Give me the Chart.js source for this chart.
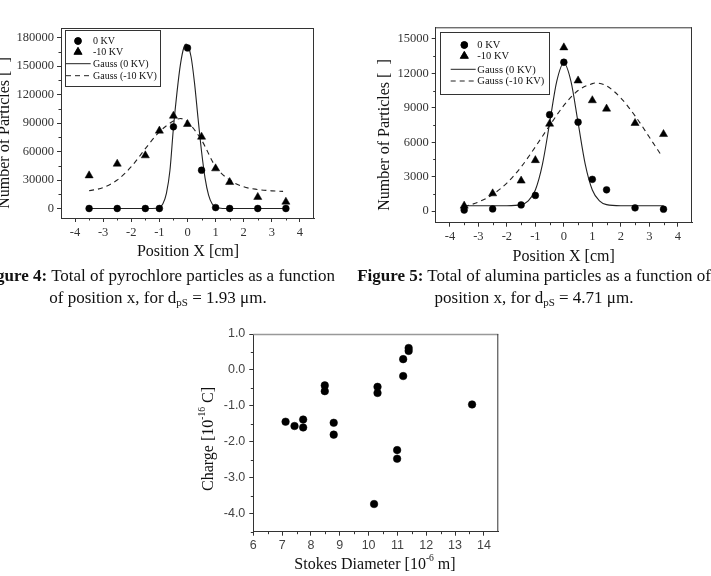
<!DOCTYPE html>
<html>
<head>
<meta charset="utf-8">
<script src="https://cdn.jsdelivr.net/npm/chart.js@4.4.0/dist/chart.umd.min.js"></script>
<style>
body { margin: 0; background: #fff; }
#page { position: relative; width: 711px; height: 576px; overflow: hidden; background: #fff; }
canvas { position: absolute; }
.cap { position: absolute; width: 440px; text-align: center; font-family: 'Liberation Serif', serif; font-size: 17px; line-height: 22px; color: #111; white-space: nowrap; }
.cap sub { font-size: 11px; vertical-align: -3px; line-height: 0; }
</style>
</head>
<body>
<div id="page">
  <canvas id="fig4" width="340" height="262" style="left:0;top:0"></canvas>
  <canvas id="fig5" width="371" height="268" style="left:340px;top:0"></canvas>
  <canvas id="fig6" width="350" height="256" style="left:180px;top:320px"></canvas>
  <div class="cap" style="left:-62px;top:265px"><b>Figure 4:</b> Total of pyrochlore particles as a function<br>of position x, for d<sub>pS</sub> = 1.93 μm.</div>
  <div class="cap" style="left:314px;top:265px"><b>Figure 5:</b> Total of alumina particles as a function of<br>position x, for d<sub>pS</sub> = 4.71 μm.</div>
</div>
<script>
// figure 4 - pyrochlore
var fig4Pos = [-3.5, -2.5, -1.5, -1, -0.5, 0, 0.5, 1, 1.5, 2.5, 3.5];
var fig4Count0kV = [0, 0, 0, 0, 86000, 169000, 40300, 1000, 0, 0, 0];
var fig4CountNeg10kV = [34700, 47000, 55800, 81800, 97500, 88800, 75400, 42100, 27700, 12000, 7000];
var fig4Gauss0X = [-3.5, -1.25, -1, -0.875, -0.75, -0.625, -0.5, -0.375, -0.25, -0.125, -0.05, 0.125, 0.25, 0.375, 0.5, 0.625, 0.75, 0.875, 1, 1.25, 3.5];
var fig4Gauss0Y = [0, 0, 1000, 5000, 16000, 40000, 85000, 122000, 152000, 170000, 173000, 160000, 132000, 95000, 60000, 32000, 14000, 5000, 1500, 0, 0];
var fig4GaussNegX = [-3.5, -3, -2.5, -2, -1.5, -1, -0.5, -0.25, 0, 0.5, 1, 1.5, 2, 2.5, 3, 3.4];
var fig4GaussNegY = [18600, 22000, 30000, 44000, 63000, 80700, 92000, 94700, 91000, 72000, 44000, 30000, 22800, 20000, 18600, 18000];
var fig4YTicks = [0, 30000, 60000, 90000, 120000, 150000, 180000];

// figure 5 - alumina
var fig5Pos = [-3.5, -2.5, -1.5, -1, -0.5, 0, 0.5, 1, 1.5, 2.5, 3.5];
var fig5Count0kV = [100, 200, 550, 1370, 8390, 12960, 7750, 2770, 1860, 290, 175];
var fig5CountNeg10kV = [470, 1540, 2650, 4430, 7600, 14240, 11360, 9640, 8910, 7660, 6700];
var fig5Gauss0X = [-3.5, -2, -1.5, -1.25, -1, -0.75, -0.5, -0.25, 0, 0.25, 0.5, 0.75, 1, 1.25, 1.5, 2, 3.5];
var fig5Gauss0Y = [470, 470, 570, 900, 1850, 4100, 7660, 11300, 12900, 11300, 7700, 4100, 1850, 900, 570, 470, 470];
var fig5GaussNegX = [-3.5, -3, -2.5, -2, -1.5, -1, -0.5, 0, 0.5, 1, 1.1, 1.5, 2, 2.5, 3, 3.45];
var fig5GaussNegY = [380, 800, 1450, 2450, 3850, 5600, 7450, 9200, 10500, 11100, 11150, 10900, 9850, 8300, 6450, 4750];
var fig5YTicks = [0, 3000, 6000, 9000, 12000, 15000];

var posTicks = [-4, -3, -2, -1, 0, 1, 2, 3, 4];

// bottom chart - charge vs stokes diameter
var stokesDiameter = [7.12, 7.43, 7.73, 7.73, 8.48, 8.48, 8.79, 8.79, 10.19, 10.31, 10.31, 10.99, 10.99, 11.2, 11.2, 11.39, 11.39, 13.59];
var charge = [-1.44, -1.56, -1.38, -1.60, -0.43, -0.59, -1.47, -1.80, -3.73, -0.47, -0.64, -2.23, -2.47, 0.30, -0.17, 0.61, 0.53, -0.96];
var diameterTicks = [6, 7, 8, 9, 10, 11, 12, 13, 14];
var chargeTicks = [-4, -3, -2, -1, 0, 1];

function pts(xs, ys) {
    return xs.map(function (x, i) { return { x: x, y: ys[i] }; });
}
function midpoints(arr) {
    var out = [];
    for (var i = 0; i < arr.length - 1; i++) out.push((arr[i] + arr[i + 1]) / 2);
    return out;
}
function fixTicks(values) {
    return function (scale) { scale.ticks = values.map(function (v) { return { value: v }; }); };
}
function fixSize(size, horizontal) {
    return function (scale) {
        if (horizontal) scale.height = size; else scale.width = size;
        scale.paddingLeft = scale.paddingRight = scale.paddingTop = scale.paddingBottom = 0;
    };
}

// frame, minor ticks, axis titles and the boxed legend
var decor = {
    id: 'decor',
    afterDraw: function (chart, args, o) {
        var ctx = chart.ctx, a = chart.chartArea;
        var xs = chart.scales.x, ys = chart.scales.y;
        ctx.save();
        ctx.lineWidth = o.topWidth || 1;
        ctx.strokeStyle = o.topColor || o.color;
        ctx.beginPath(); ctx.moveTo(a.left, a.top + 0.5); ctx.lineTo(a.right, a.top + 0.5); ctx.stroke();
        ctx.lineWidth = 1;
        ctx.strokeStyle = o.color;
        ctx.beginPath(); ctx.moveTo(a.right - 0.5, a.top); ctx.lineTo(a.right - 0.5, a.bottom); ctx.stroke();
        ctx.beginPath();
        o.minorX.forEach(function (v) {
            var px = Math.round(xs.getPixelForValue(v)) + 0.5;
            ctx.moveTo(px, a.bottom); ctx.lineTo(px, a.bottom + 2.5);
        });
        o.minorY.forEach(function (v) {
            var py = Math.round(ys.getPixelForValue(v)) + 0.5;
            ctx.moveTo(a.left, py); ctx.lineTo(a.left - 2.5, py);
        });
        ctx.stroke();

        ctx.fillStyle = '#111';
        o.titles.forEach(function (t) {
            var total = 0;
            t.parts.forEach(function (p) {
                ctx.font = (p.sup ? t.size * 0.6 : t.size) + 'px "Liberation Serif"';
                p.w = ctx.measureText(p.s).width;
                total += p.w;
            });
            ctx.save();
            ctx.translate(t.x, t.y);
            if (t.rotate) ctx.rotate(-Math.PI / 2);
            ctx.textBaseline = 'middle';
            ctx.textAlign = 'left';
            var cx = -total / 2;
            t.parts.forEach(function (p) {
                ctx.font = (p.sup ? t.size * 0.6 : t.size) + 'px "Liberation Serif"';
                ctx.fillText(p.s, cx, p.sup ? -t.size * 0.42 : 0);
                cx += p.w;
            });
            ctx.restore();
        });

        var lg = o.legend;
        if (lg) {
            ctx.fillStyle = '#fff';
            ctx.fillRect(lg.x, lg.y, lg.w, lg.h);
            ctx.strokeStyle = '#333';
            ctx.lineWidth = 1;
            ctx.strokeRect(lg.x + 0.5, lg.y + 0.5, lg.w, lg.h);
            ctx.font = lg.size + 'px "Liberation Serif"';
            ctx.textBaseline = 'middle';
            ctx.textAlign = 'left';
            chart.data.datasets.forEach(function (ds, i) {
                var y = lg.rows[i];
                ctx.fillStyle = '#000';
                ctx.strokeStyle = '#222';
                if (ds.showLine) {
                    ctx.setLineDash(ds.borderDash || []);
                    ctx.beginPath(); ctx.moveTo(lg.lineX[0], y); ctx.lineTo(lg.lineX[1], y); ctx.stroke();
                    ctx.setLineDash([]);
                } else {
                    Chart.helpers.drawPoint(ctx, { pointStyle: ds.pointStyle, radius: ds.pointRadius, borderWidth: 0.5 }, lg.symX, y);
                    ctx.fill();
                }
                ctx.fillStyle = '#111';
                ctx.fillText(ds.label, lg.textX, y + 0.5);
            });
        }
        ctx.restore();
    }
};

function serifTicks(padding, fmt) {
    return { font: { family: 'Liberation Serif', size: 12.5 }, color: '#333', padding: padding, maxRotation: 0, autoSkip: false, callback: fmt };
}
function axisGrid(color) {
    return { drawOnChartArea: false, drawTicks: true, tickLength: 4, color: color };
}

function particleChart(id, pos, c0, cNeg, g0x, g0y, gNx, gNy, yMin, yMax, yTicks, padding, deco) {
    return new Chart(id, {
        type: 'scatter',
        data: {
            datasets: [
                { label: '0 KV', data: pts(pos, c0), pointStyle: 'circle', pointRadius: 3.4, borderWidth: 0.5, backgroundColor: '#000', borderColor: '#000' },
                { label: '-10 KV', data: pts(pos, cNeg), pointStyle: 'triangle', pointRadius: 4.7, borderWidth: 0.5, backgroundColor: '#000', borderColor: '#000' },
                { label: 'Gauss (0 KV)', data: pts(g0x, g0y), showLine: true, pointRadius: 0, borderWidth: 1.1, borderColor: '#222', cubicInterpolationMode: 'monotone' },
                { label: 'Gauss (-10 KV)', data: pts(gNx, gNy), showLine: true, pointRadius: 0, borderWidth: 1.1, borderColor: '#222', borderDash: [5, 4], cubicInterpolationMode: 'monotone' }
            ]
        },
        options: {
            responsive: false,
            animation: false,
            layout: { padding: padding },
            plugins: { legend: { display: false }, tooltip: { enabled: false }, decor: deco },
            scales: {
                x: {
                    type: 'linear', position: 'bottom', min: -4.5, max: 4.5,
                    afterBuildTicks: fixTicks(posTicks), afterFit: fixSize(30, true),
                    border: { display: true, color: '#333', width: 1 },
                    grid: axisGrid('#333'),
                    ticks: serifTicks(3, function (v) { return String(v); })
                },
                y: {
                    type: 'linear', position: 'left', min: yMin, max: yMax,
                    afterBuildTicks: fixTicks(yTicks), afterFit: fixSize(45, false),
                    border: { display: true, color: '#333', width: 1 },
                    grid: axisGrid('#333'),
                    ticks: serifTicks(3, function (v) { return String(v); })
                }
            }
        },
        plugins: [decor]
    });
}

particleChart('fig4', fig4Pos, fig4Count0kV, fig4CountNeg10kV, fig4Gauss0X, fig4Gauss0Y, fig4GaussNegX, fig4GaussNegY,
    -10000, 190000, fig4YTicks, { left: 16, top: 28, right: 26, bottom: 14 }, {
        color: '#333',
        minorX: midpoints(posTicks),
        minorY: midpoints(fig4YTicks),
        titles: [
            { parts: [{ s: 'Number of Particles [  ]' }], x: 5, y: 133, size: 16, rotate: true },
            { parts: [{ s: 'Position X [cm]' }], x: 188, y: 252, size: 16 }
        ],
        legend: { x: 65, y: 30, w: 95, h: 56, rows: [41, 52, 63.7, 75.7], symX: 78, lineX: [66, 90.7], textX: 93, size: 10 }
    });

particleChart('fig5', fig5Pos, fig5Count0kV, fig5CountNeg10kV, fig5Gauss0X, fig5Gauss0Y, fig5GaussNegX, fig5GaussNegY,
    -1000, 16000, fig5YTicks, { left: 50.7, top: 27.3, right: 19, bottom: 15.3 }, {
        color: '#333',
        minorX: midpoints(posTicks),
        minorY: midpoints(fig5YTicks),
        titles: [
            { parts: [{ s: 'Number of Particles [  ]' }], x: 45, y: 135, size: 16, rotate: true },
            { parts: [{ s: 'Position X [cm]' }], x: 223.7, y: 257, size: 16 }
        ],
        legend: { x: 100, y: 32, w: 109, h: 62, rows: [45, 56, 69.3, 81], symX: 124.3, lineX: [110.7, 135.7], textX: 137.3, size: 10.5 }
    });

new Chart('fig6', {
    type: 'scatter',
    data: {
        datasets: [
            { label: 'Charge', data: pts(stokesDiameter, charge), pointStyle: 'circle', pointRadius: 3.8, borderWidth: 0.5, backgroundColor: '#000', borderColor: '#000' }
        ]
    },
    options: {
        responsive: false,
        animation: false,
        layout: { padding: { left: 28.3, top: 14, right: 31.7, bottom: 14.3 } },
        plugins: {
            legend: { display: false }, tooltip: { enabled: false },
            decor: {
                color: '#333', topColor: '#999', topWidth: 1.6,
                minorX: midpoints(diameterTicks),
                minorY: midpoints(chargeTicks).concat([-4.5]),
                titles: [
                    { parts: [{ s: 'Charge [10' }, { s: '-16', sup: true }, { s: ' C]' }], x: 29, y: 119, size: 16, rotate: true },
                    { parts: [{ s: 'Stokes Diameter [10' }, { s: '-6', sup: true }, { s: ' m]' }], x: 195, y: 245, size: 16 }
                ]
            }
        },
        scales: {
            x: {
                type: 'linear', position: 'bottom', min: 6, max: 14.5,
                afterBuildTicks: fixTicks(diameterTicks), afterFit: fixSize(30, true),
                border: { display: true, color: '#333', width: 1 },
                grid: axisGrid('#333'),
                ticks: { font: { family: 'Liberation Sans', size: 12.5 }, color: '#444', padding: 2, maxRotation: 0, autoSkip: false, callback: function (v) { return String(v); } }
            },
            y: {
                type: 'linear', position: 'left', min: -4.5, max: 1,
                afterBuildTicks: fixTicks(chargeTicks), afterFit: fixSize(45, false),
                border: { display: true, color: '#333', width: 1 },
                grid: axisGrid('#333'),
                ticks: { font: { family: 'Liberation Sans', size: 12.5 }, color: '#444', padding: 4, maxRotation: 0, autoSkip: false, callback: function (v) { return v.toFixed(1); } }
            }
        }
    },
    plugins: [decor]
});
</script>
</body>
</html>
